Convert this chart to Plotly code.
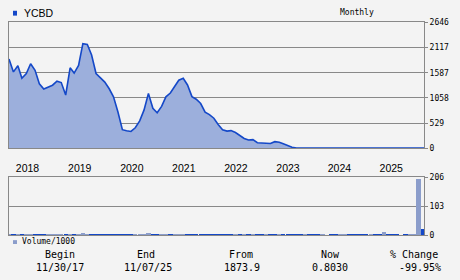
import pandas as pd
import plotly.graph_objects as go

# ---------------- data ----------------
ticker = "YCBD"
period_label = "Monthly"

# month-end closes from 2017-11-30, then the last close on 2025-11-07
price_values = [
    1878, 1605, 1735, 1471, 1570, 1777, 1640, 1355, 1245, 1285, 1325, 1410,
    1380, 1119, 1690, 1580, 1740, 2200, 2180, 1960, 1570, 1480, 1390, 1250,
    1080, 760, 390, 368, 352, 430, 575, 800, 1150, 840, 745, 880,
    1080, 1160, 1305, 1430, 1470, 1330, 1085, 1030, 940, 760, 705, 630,
    500, 387, 360, 370, 330, 262, 205, 172, 180, 115, 110, 118,
    100, 138, 125, 95, 50, 22, 6, 5.2, 4.6, 4.1, 3.7, 3.4,
    3.1, 2.9, 2.7, 2.5, 2.3, 2.2, 2.0, 1.9, 1.8, 1.7, 1.6, 1.5,
    1.4, 1.35, 1.3, 1.2, 1.15, 1.1, 1.05, 1.0, 0.95, 0.9, 0.88, 0.85,
    0.803,
]
price_dates = list(pd.date_range("2017-11-30", periods=96, freq="ME").strftime("%Y-%m-%d")) + ["2025-11-07"]

# monthly volume / 1000, bars at month ends
volume_values = [
    4, 4, 5, 4, 4, 4, 5, 4, 4, 4, 4, 4,
    4, 5, 4, 4, 5, 6, 5, 4, 4, 4, 4, 4,
    4, 5, 4, 4, 4, 4, 4, 5, 6, 4, 4, 4,
    4, 4, 4, 4, 5, 4, 4, 4, 4, 4, 4, 4,
    4, 4, 4, 4, 3, 4, 3, 4, 3, 4, 3, 3,
    3, 3, 3, 4, 4, 3, 3, 3, 3, 3, 3, 3,
    3, 0, 3, 3, 3, 3, 3, 3, 3, 3, 3, 3,
    3, 3, 10, 3, 3, 3, 0, 3, 3, 3, 200, 22,
]
volume_dates = list(pd.date_range("2017-11-30", periods=96, freq="ME").strftime("%Y-%m-%d"))
# u = up month (light bar), d = down month (dark bar)
volume_dir = ("ududuuddduuu" "ududuuuddddd" "ddddduuuuddu" "uduuuddddddd"
              "ddddudududdu" "dduddddduddd" "uddduudddddu" "dduddddduuud")

year_labels = ["2018", "2019", "2020", "2021", "2022", "2023", "2024", "2025"]
year_label_dates = ["2018-04-08", "2019-04-08", "2020-04-06", "2021-04-04",
                    "2022-04-03", "2023-04-02", "2024-03-26", "2025-03-23"]
price_ticks = [0, 529, 1058, 1587, 2117, 2646]
volume_ticks = [0, 103, 206]

summary_heads = ["Begin", "End", "From", "Now", "% Change"]
summary_vals = ["11/30/17", "11/07/25", "1873.9", "0.8030", "-99.95%"]

# ---------------- style ----------------
W, H = 460, 280
BG = "#f3f3f3"
GRID = "#888888"
LINE = "#1448c8"
FILL = "#9cafdc"
UP = "#8b9dcb"
DOWN = "#1448c8"
MONO = "DejaVu Sans Mono"
SANS = "Liberation Sans"


def px(x):
    return x / W


def py(y):
    return 1 - y / H


X0, X1 = 9, 424
x_range = ["2017-11-30", "2025-11-07"]

fig = go.Figure()
fig.add_trace(go.Scatter(
    x=price_dates, y=price_values, mode="lines",
    line=dict(color=LINE, width=1.6), fill="tozeroy", fillcolor=FILL,
    xaxis="x", yaxis="y", hoverinfo="skip", showlegend=False,
))
fig.add_trace(go.Bar(
    x=volume_dates, y=volume_values,
    marker=dict(color=[UP if c == "u" else DOWN for c in volume_dir], line=dict(width=0)),
    width=30.4 * 86400000, xaxis="x2", yaxis="y2", hoverinfo="skip", showlegend=False,
))

axis_common = dict(showline=True, linecolor=GRID, linewidth=1, mirror=True, zeroline=False)

fig.update_layout(
    width=W, height=H, margin=dict(l=0, r=0, t=0, b=0),
    paper_bgcolor=BG, plot_bgcolor=BG, showlegend=False,
    xaxis=dict(domain=[px(X0), px(X1)], range=x_range, type="date", anchor="y",
               tickvals=year_label_dates, ticktext=year_labels, ticks="outside", ticklen=0,
               ticklabelstandoff=10,
               tickfont=dict(family=SANS, size=10.5, color="#000"), showgrid=False, **axis_common),
    yaxis=dict(domain=[py(149), py(19)], range=[0, 2646], side="right", anchor="x",
               tickvals=price_ticks, ticktext=[str(v) for v in price_ticks],
               ticks="outside", ticklen=3, tickcolor=GRID,
               tickfont=dict(family=MONO, size=8, color="#000"),
               showgrid=True, gridcolor=GRID, gridwidth=1, **axis_common),
    xaxis2=dict(domain=[px(X0), px(X1)], range=x_range, type="date", anchor="y2",
                showticklabels=False, showgrid=False, **axis_common),
    yaxis2=dict(domain=[py(239), py(179)], range=[0, 206], side="right", anchor="x2",
                tickvals=volume_ticks, ticktext=[str(v) for v in volume_ticks],
                ticks="outside", ticklen=3, tickcolor=GRID,
                tickfont=dict(family=MONO, size=8, color="#000"),
                showgrid=True, gridcolor=GRID, gridwidth=1, **axis_common),
    bargap=0,
)

shapes = [
    dict(type="rect", xref="paper", yref="paper", x0=px(13), x1=px(17), y0=py(12), y1=py(7),
         fillcolor=LINE, line=dict(width=0)),
    dict(type="rect", xref="paper", yref="paper", x0=px(13), x1=px(17), y0=py(248), y1=py(244),
         fillcolor=UP, line=dict(width=0)),
]
fig.update_layout(shapes=shapes)

ann = []


def text(x, y, s, family, size, xanchor="center"):
    ann.append(dict(x=px(x), y=py(y), xref="paper", yref="paper", text=s, showarrow=False,
                    xanchor=xanchor, yanchor="middle", font=dict(family=family, size=size, color="#000")))


text(22, 9, ticker, SANS, 10.5, "left")
text(357, 9, period_label, MONO, 8)
text(20, 245.5, "Volume/1000", MONO, 8, "left")

head_x = [60.5, 146, 241, 330.5, 414]
val_x = [59.5, 147.5, 242, 329.5, 420]
for hx, vx, h, v in zip(head_x, val_x, summary_heads, summary_vals):
    text(hx, 259, h, MONO, 10)
    text(vx, 272.5, v, MONO, 10)

fig.update_layout(annotations=ann)
fig.write_html("out.html")
